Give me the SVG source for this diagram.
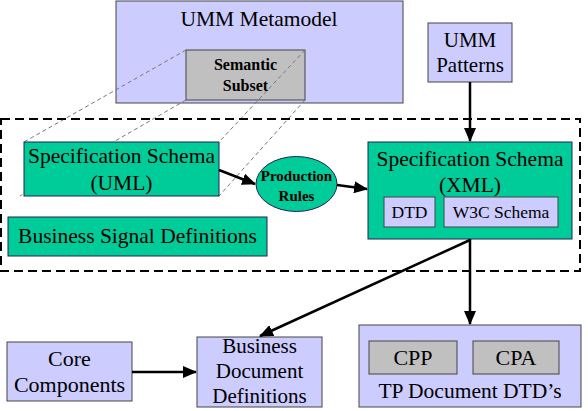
<svg xmlns="http://www.w3.org/2000/svg" width="588" height="411" viewBox="0 0 588 411" font-family="Liberation Serif, DejaVu Serif, serif">
<defs>
<marker id="ah" markerWidth="14" markerHeight="12" refX="13" refY="6" orient="auto" markerUnits="userSpaceOnUse">
<path d="M0,0 L14,6 L0,12 Z" fill="#000"/>
</marker>
<style>
text{fill:#000;text-anchor:middle}
.lav{fill:#ccccff;stroke:#444;stroke-width:1}
.teal{fill:#00cc99;stroke:#225;stroke-width:1}
.gray{fill:#c0c0c0;stroke:#444;stroke-width:1}
.con{stroke:#000;stroke-width:2.5;fill:none}
.thin{stroke:#777;stroke-width:1;stroke-dasharray:4 3;fill:none}
</style>
</defs>
<rect width="588" height="411" fill="#fff"/>
<g id="umm-metamodel">
<rect class="lav" x="116" y="1" width="287" height="102"/>
<text x="259" y="26" font-size="21.5">UMM Metamodel</text>
</g>
<g id="semantic-subset">
<rect class="gray" x="186" y="50" width="119" height="50"/>
<text x="245.5" y="70" font-size="16" font-weight="bold">Semantic</text>
<text x="245.5" y="91" font-size="16" font-weight="bold">Subset</text>
</g>
<g id="mapping-lines">
<line class="thin" x1="186" y1="50" x2="24" y2="142"/>
<line class="thin" x1="186" y1="100" x2="20" y2="196"/>
<line class="thin" x1="305" y1="50" x2="219" y2="142"/>
<line class="thin" x1="305" y1="100" x2="219" y2="196"/>
</g>
<g id="scope">
<rect x="1" y="119" width="579" height="152" fill="none" stroke="#000" stroke-width="2" stroke-dasharray="9 5"/>
</g>
<g id="umm-patterns">
<rect class="lav" x="428" y="23" width="84" height="59"/>
<text x="470" y="47" font-size="21">UMM</text>
<text x="470" y="72" font-size="21">Patterns</text>
</g>
<g id="spec-uml">
<rect class="teal" x="24" y="142" width="195" height="54"/>
<text x="121.5" y="163" font-size="21.5">Specification Schema</text>
<text x="121.5" y="190" font-size="21.5">(UML)</text>
</g>
<g id="business-signal">
<rect class="teal" x="8" y="217" width="259" height="39"/>
<text x="137.5" y="243" font-size="21.5">Business Signal Definitions</text>
</g>
<g id="production-rules">
<ellipse cx="296.5" cy="184" rx="40.5" ry="27.5" fill="#00cc99" stroke="#225" stroke-width="1"/>
<text x="296.5" y="181" font-size="15" font-weight="bold">Production</text>
<text x="296.5" y="201" font-size="15" font-weight="bold">Rules</text>
</g>
<g id="spec-xml">
<rect class="teal" x="368" y="142" width="204" height="97"/>
<text x="470" y="166" font-size="21.5">Specification Schema</text>
<text x="470" y="192" font-size="21.5">(XML)</text>
<rect class="lav" x="384" y="197" width="51" height="30"/>
<text x="409.5" y="218" font-size="17.5">DTD</text>
<rect class="lav" x="444" y="197" width="114" height="30"/>
<text x="501" y="218" font-size="17.5">W3C Schema</text>
</g>
<g id="core-components">
<rect class="lav" x="7" y="342" width="125" height="59"/>
<text x="69.5" y="366" font-size="22">Core</text>
<text x="69.5" y="392" font-size="22">Components</text>
</g>
<g id="business-document">
<rect class="lav" x="197" y="337" width="125" height="70"/>
<text x="259.5" y="353" font-size="21">Business</text>
<text x="259.5" y="378" font-size="21">Document</text>
<text x="259.5" y="403" font-size="21">Definitions</text>
</g>
<g id="tp-document">
<rect class="lav" x="359" y="325" width="222" height="82"/>
<rect class="gray" x="369" y="341" width="88" height="33"/>
<text x="413" y="365" font-size="22">CPP</text>
<rect class="gray" x="473" y="341" width="86" height="33"/>
<text x="516" y="365" font-size="22">CPA</text>
<text x="470" y="398" font-size="21.5">TP Document DTD’s</text>
</g>
<g id="connectors">
<line class="con" x1="470" y1="82" x2="470" y2="141" marker-end="url(#ah)"/>
<line class="con" x1="219" y1="170" x2="255" y2="184" marker-end="url(#ah)"/>
<line class="con" x1="337" y1="185" x2="367" y2="189" marker-end="url(#ah)"/>
<line class="con" x1="470" y1="239" x2="470" y2="324" marker-end="url(#ah)"/>
<line class="con" x1="470" y1="240" x2="260" y2="336" marker-end="url(#ah)"/>
<line class="con" x1="132" y1="372" x2="196" y2="372" marker-end="url(#ah)"/>
</g>
</svg>
